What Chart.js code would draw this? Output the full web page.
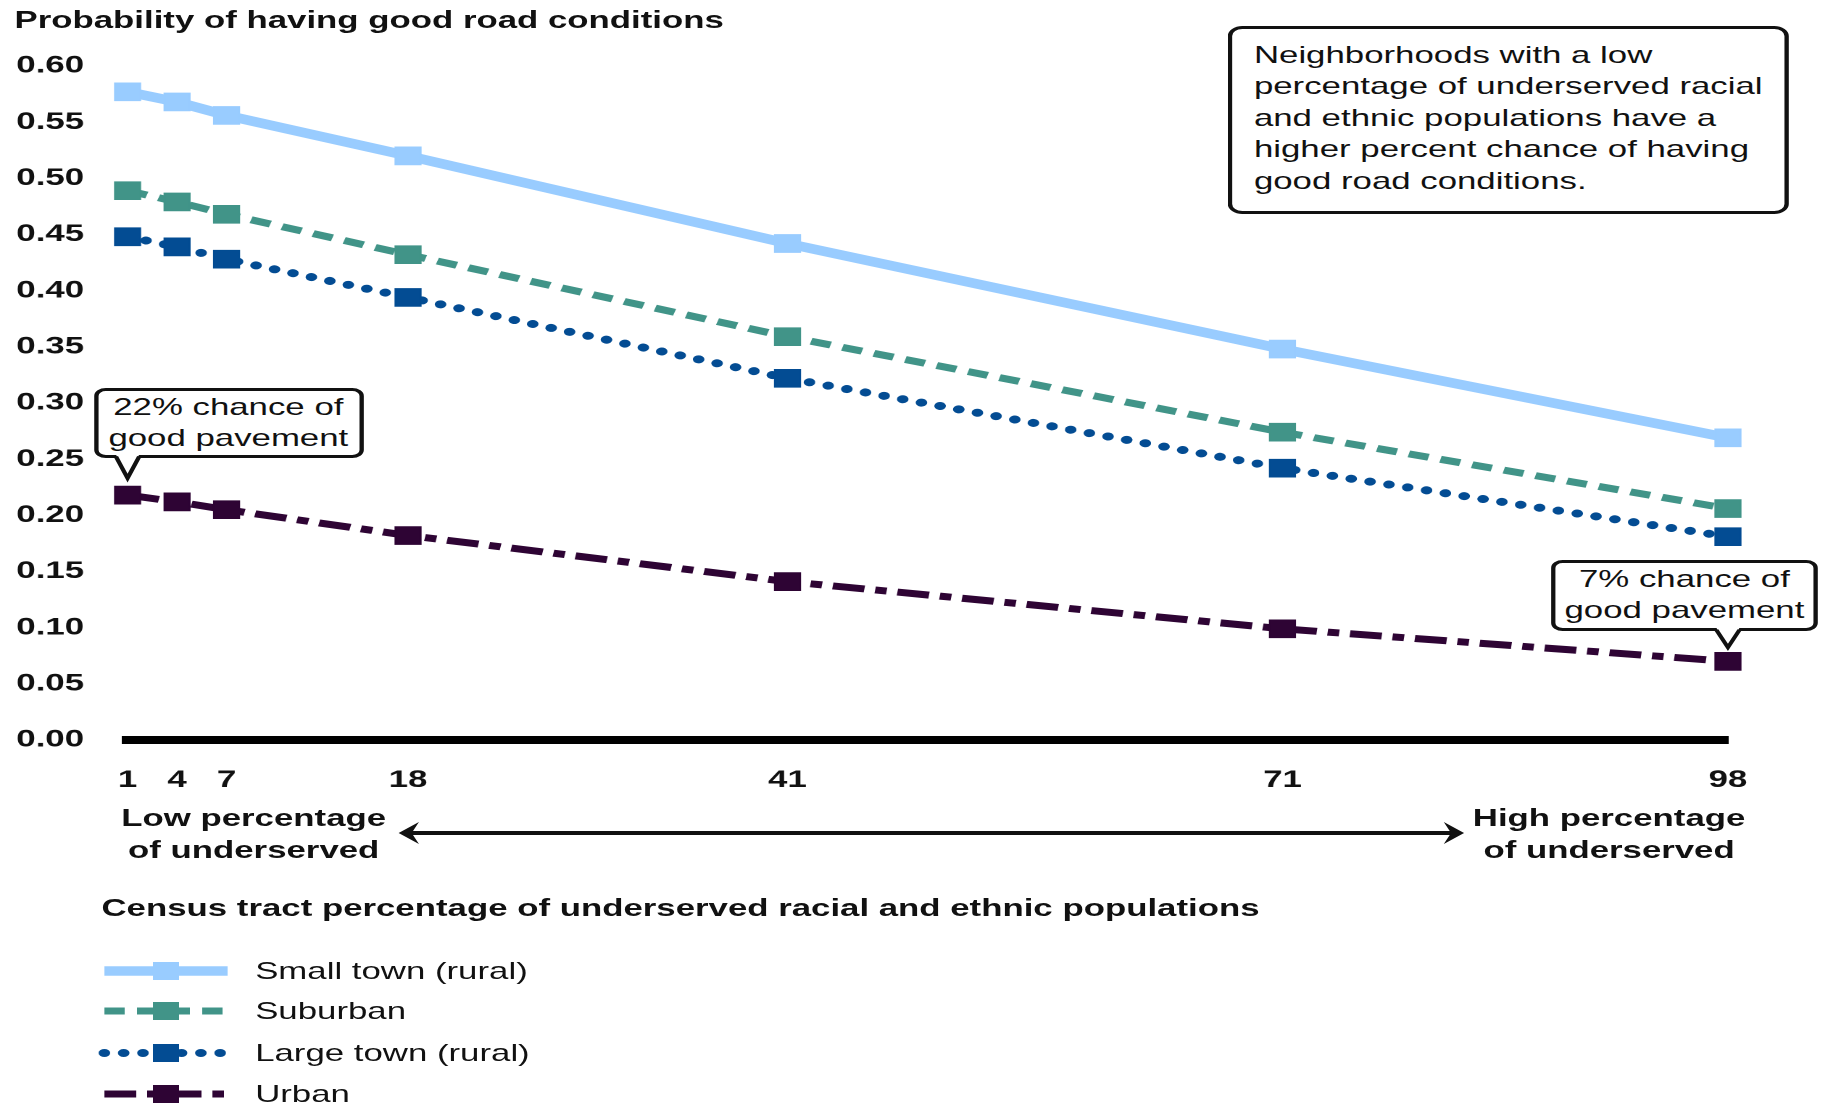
<!DOCTYPE html>
<html>
<head>
<meta charset="utf-8">
<title>Probability of having good road conditions</title>
<script src="https://cdn.jsdelivr.net/npm/chart.js@4.4.1/dist/chart.umd.min.js"></script>
<style>
  html, body { margin: 0; padding: 0; background: #fff; overflow: hidden; }
  /* the reference is stretched sideways, so lay out narrow and scale x */
  #stage {
    position: absolute; left: 0; top: 0;
    width: 1259px; height: 1109px;
    transform-origin: 0 0; transform: scaleX(1.4496);
    font-family: "Liberation Sans", Arial, sans-serif; color: #111;
  }
  #chart { position: absolute; left: 0; top: 0; }
  #overlay { position: absolute; left: 0; top: 0; pointer-events: none; }
  .txt { position: absolute; white-space: nowrap; font-size: 24px; line-height: 24px; }
  .bold { font-weight: bold; }
  .center { text-align: center; transform: translateX(-50%); line-height: 32px; }
  .box {
    position: absolute; box-sizing: border-box; background: #fff;
    border: 3px solid #111; border-radius: 10px;
    font-size: 24px; white-space: nowrap;
  }
  #note { left: 847px; top: 26px; width: 387px; height: 188px; padding: 10px 0 0 15px; line-height: 31.4px; }
  .callout { text-align: center; line-height: 31px; border-radius: 8px; }
</style>
</head>
<body>
<div id="stage">
  <canvas id="chart" width="1259" height="1109"></canvas>

  <div class="txt bold" style="left:10px; top:8px;">Probability of having good road conditions</div>

  <div id="note" class="box">Neighborhoods with a low<br>percentage of underserved racial<br>and ethnic populations have a<br>higher percent chance of having<br>good road conditions.</div>

  <div id="callLow" class="box callout">22% chance of<br>good pavement</div>
  <div id="callHigh" class="box callout">7% chance of<br>good pavement</div>

  <div class="txt bold center" style="left:175px; top:802px;">Low percentage<br>of underserved</div>
  <div class="txt bold center" style="left:1110px; top:802px;">High percentage<br>of underserved</div>

  <div class="txt bold" style="left:70px; top:896px;">Census tract percentage of underserved racial and ethnic populations</div>

  <div id="legendText"></div>

  <svg id="overlay" width="1259" height="1109"></svg>
</div>

<script>
"use strict";

// census tract percentage of underserved populations (x positions)
const xTicks = [1, 4, 7, 18, 41, 71, 98];

const seriesNames = ["Small town (rural)", "Suburban", "Large town (rural)", "Urban"];

// probability of good road conditions
const smallTown = [0.577, 0.568, 0.556, 0.520, 0.442, 0.348, 0.269];
const suburban = [0.489, 0.479, 0.468, 0.432, 0.359, 0.274, 0.206];
const largeTown = [0.448, 0.439, 0.428, 0.394, 0.322, 0.242, 0.181];
const urban = [0.218, 0.212, 0.205, 0.182, 0.141, 0.099, 0.070];

const yMax = 0.6;
const yStep = 0.05;

const seriesValues = [smallTown, suburban, largeTown, urban];

const lineStyles = [
  { color: "#99CCFF", width: 9.5, dash: [], cap: "butt" },
  { color: "#419488", width: 7, dash: [14, 8.5], cap: "butt" },
  { color: "#034C93", width: 8, dash: [0.01, 13.3], cap: "round" },
  { color: "#2E0434", width: 7, dash: [22, 7.5, 8, 7.5], cap: "butt" },
];

const legendRowY = [971, 1011, 1053, 1094];
const legendX0 = 72;
const legendX1 = 157;
const fontFamily = '"Liberation Sans", Arial, sans-serif';

const datasets = seriesValues.map((values, i) => {
  const st = lineStyles[i];
  return {
    label: seriesNames[i],
    data: values.map((v, j) => ({ x: xTicks[j], y: v })),
    borderColor: st.color,
    backgroundColor: st.color,
    borderWidth: st.width,
    borderDash: st.dash,
    borderCapStyle: st.cap,
    pointStyle: "rect",
    pointRadius: 12.5,
    pointHoverRadius: 12.5,
    pointBorderWidth: 1,
    pointBackgroundColor: st.color,
    pointBorderColor: st.color,
    tension: 0,
    clip: false,
  };
});

// legend samples: line in the series style with a marker in the middle
const sampleLegend = {
  id: "sampleLegend",
  afterDraw(chart) {
    const ctx = chart.ctx;
    chart.data.datasets.forEach((ds, i) => {
      const y = legendRowY[i];
      ctx.save();
      ctx.strokeStyle = ds.borderColor;
      ctx.lineWidth = ds.borderWidth;
      ctx.lineCap = ds.borderCapStyle;
      ctx.setLineDash(ds.borderDash);
      ctx.beginPath();
      ctx.moveTo(legendX0, y);
      ctx.lineTo(legendX1, y);
      ctx.stroke();
      ctx.setLineDash([]);
      ctx.fillStyle = ds.borderColor;
      const mid = (legendX0 + legendX1) / 2;
      ctx.fillRect(mid - 9, y - 9, 18, 18);
      ctx.restore();
    });
  },
};

const chart = new Chart(document.getElementById("chart"), {
  type: "line",
  data: { datasets },
  options: {
    responsive: false,
    devicePixelRatio: 2,
    animation: false,
    events: [],
    layout: { padding: { left: 0, top: 66, right: 67, bottom: 309 } },
    plugins: { legend: { display: false }, tooltip: { enabled: false } },
    scales: {
      x: {
        type: "linear",
        min: xTicks[0],
        max: xTicks[xTicks.length - 1],
        afterBuildTicks: (scale) => {
          scale.ticks = xTicks.map((v) => ({ value: v }));
        },
        afterFit: (scale) => { scale.height = 60; },
        grid: { display: false, drawTicks: false },
        border: { display: true, color: "#000", width: 8 },
        ticks: {
          autoSkip: false,
          maxRotation: 0,
          padding: 26,
          color: "#111",
          font: { family: fontFamily, size: 24, weight: "bold" },
          callback: (v) => String(v),
        },
      },
      y: {
        min: 0,
        max: yMax,
        afterFit: (scale) => { scale.width = 88; },
        grid: { display: false, drawTicks: false },
        border: { display: false },
        ticks: {
          stepSize: yStep,
          padding: 30,
          color: "#111",
          font: { family: fontFamily, size: 24, weight: "bold" },
          callback: (v) => Number(v).toFixed(2),
        },
      },
    },
  },
  plugins: [sampleLegend],
});

// legend labels as html text
const legendText = document.getElementById("legendText");
seriesNames.forEach((name, i) => {
  const d = document.createElement("div");
  d.className = "txt";
  d.style.left = "176px";
  d.style.top = (legendRowY[i] - 12) + "px";
  d.textContent = name;
  legendText.appendChild(d);
});

// callouts hang off the first and last urban points
const svg = document.getElementById("overlay");
const xs = chart.scales.x;
const ys = chart.scales.y;
let svgParts = "";

function placeCallout(id, tipX, tipY, left, top, width, height) {
  const el = document.getElementById(id);
  el.style.left = (tipX + left) + "px";
  el.style.top = (tipY + top) + "px";
  el.style.width = width + "px";
  el.style.height = height + "px";
  const base = tipY + top + height;
  svgParts += `<polygon points="${tipX - 8},${base - 3.5} ${tipX},${tipY} ${tipX + 8},${base - 3.5}" fill="#fff"/>`;
  svgParts += `<polyline points="${tipX - 8},${base - 1.5} ${tipX},${tipY} ${tipX + 8},${base - 1.5}" fill="none" stroke="#111" stroke-width="3"/>`;
}

const lowTipX = xs.getPixelForValue(xTicks[0]);
const lowTipY = ys.getPixelForValue(urban[0]) - 17;
placeCallout("callLow", lowTipX, lowTipY, -23.5, -90, 186, 70);

const last = xTicks.length - 1;
const highTipX = xs.getPixelForValue(xTicks[last]);
const highTipY = ys.getPixelForValue(urban[last]) - 14;
placeCallout("callHigh", highTipX, highTipY, -122, -87, 184, 71);

// double-headed arrow between the low / high labels
const ax0 = 275, ax1 = 1010, ay = 833;
svgParts += `<line x1="${ax0 + 6}" y1="${ay}" x2="${ax1 - 6}" y2="${ay}" stroke="#111" stroke-width="4"/>`;
svgParts += `<polygon points="${ax0},${ay} ${ax0 + 14},${ay - 11} ${ax0 + 9},${ay} ${ax0 + 14},${ay + 11}" fill="#111"/>`;
svgParts += `<polygon points="${ax1},${ay} ${ax1 - 14},${ay - 11} ${ax1 - 9},${ay} ${ax1 - 14},${ay + 11}" fill="#111"/>`;

svg.innerHTML = svgParts;
</script>
</body>
</html>
